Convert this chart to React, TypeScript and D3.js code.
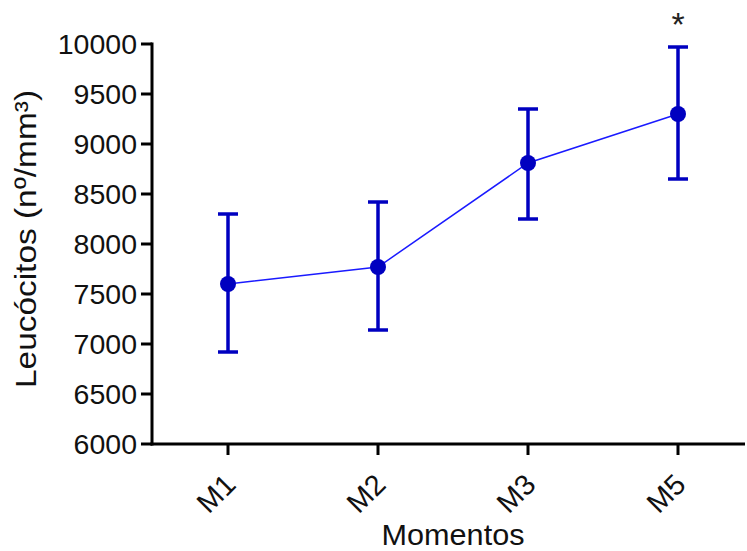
import React from "react";
import * as d3 from "d3";

const width = 747;
const height = 551;
const margin = { top: 44, right: 2, bottom: 107, left: 152 };

const momentos = ["M1", "M2", "M3", "M5"];
const medias = [7600, 7770, 8810, 9300];
const superior = [8300, 8420, 9350, 9970];
const inferior = [6920, 7140, 8250, 8650];
const yTicks = [6000, 6500, 7000, 7500, 8000, 8500, 9000, 9500, 10000];
const significativo = [false, false, false, true];

const font = "Arial, 'Liberation Sans', sans-serif";
const corBarra = "#0000c0";
const corLinha = "#1a1aff";

const App = () => {
  const x = d3
    .scalePoint<string>()
    .domain(momentos)
    .range([margin.left + 76, width - margin.right - 67]);
  const y = d3
    .scaleLinear()
    .domain([6000, 10000])
    .range([height - margin.bottom, margin.top]);

  const pontos = momentos.map((m, i) => ({
    m,
    media: medias[i],
    sup: superior[i],
    inf: inferior[i],
    sig: significativo[i]
  }));

  const linha = d3
    .line<{ m: string; media: number }>()
    .x(d => x(d.m) as number)
    .y(d => y(d.media))(pontos);

  const y0 = height - margin.bottom;

  return (
    <svg
      width={width}
      height={height}
      style={{ position: "absolute", left: 0, top: 0, background: "#fff" }}
      fontFamily={font}
    >
      {/* eixo y */}
      <line x1={margin.left} x2={margin.left} y1={y(10000) - 1.5} y2={y0 + 1.5} stroke="#000" strokeWidth={3} />
      {yTicks.map(t => (
        <g key={t}>
          <line x1={margin.left - 11} x2={margin.left} y1={y(t)} y2={y(t)} stroke="#000" strokeWidth={3} />
          <text x={margin.left - 15} y={y(t)} dy="0.36em" textAnchor="end" fontSize={28.5} fill="#111">
            {t}
          </text>
        </g>
      ))}
      <text
        transform={`translate(36, ${(y(6000) + y(10000)) / 2 - 5}) rotate(-90)`}
        textAnchor="middle"
        fontSize={30}
        textLength={298}
        lengthAdjust="spacingAndGlyphs"
        fill="#111"
      >
        Leucócitos (nº/mm³)
      </text>

      {/* eixo x */}
      <line x1={margin.left - 1.5} x2={width - margin.right} y1={y0} y2={y0} stroke="#000" strokeWidth={3} />
      {momentos.map(m => (
        <g key={m}>
          <line x1={x(m)} x2={x(m)} y1={y0} y2={y0 + 11} stroke="#000" strokeWidth={3} />
          <text
            transform={`translate(${(x(m) as number) - 5}, ${y0 + 28}) rotate(-45)`}
            textAnchor="end"
            dy="0.7em"
            fontSize={29}
            fill="#111"
          >
            {m}
          </text>
        </g>
      ))}
      <text
        x={453}
        y={545}
        textAnchor="middle"
        fontSize={30}
        textLength={143}
        lengthAdjust="spacingAndGlyphs"
        fill="#111"
      >
        Momentos
      </text>

      {/* linha das médias */}
      <path d={linha || ""} fill="none" stroke={corLinha} strokeWidth={1.5} />

      {pontos.map(d => {
        const cx = x(d.m) as number;
        return (
          <g key={d.m}>
            <line x1={cx} x2={cx} y1={y(d.sup)} y2={y(d.inf)} stroke={corBarra} strokeWidth={3.5} />
            <line x1={cx - 10} x2={cx + 10} y1={y(d.sup)} y2={y(d.sup)} stroke={corBarra} strokeWidth={3.5} />
            <line x1={cx - 10} x2={cx + 10} y1={y(d.inf)} y2={y(d.inf)} stroke={corBarra} strokeWidth={3.5} />
            <circle cx={cx} cy={y(d.media)} r={8} fill={corBarra} />
            {d.sig && (
              <text x={cx} y={y(d.sup) - 11} textAnchor="middle" fontSize={34} fill="#222">
                *
              </text>
            )}
          </g>
        );
      })}
    </svg>
  );
};

export default App;
